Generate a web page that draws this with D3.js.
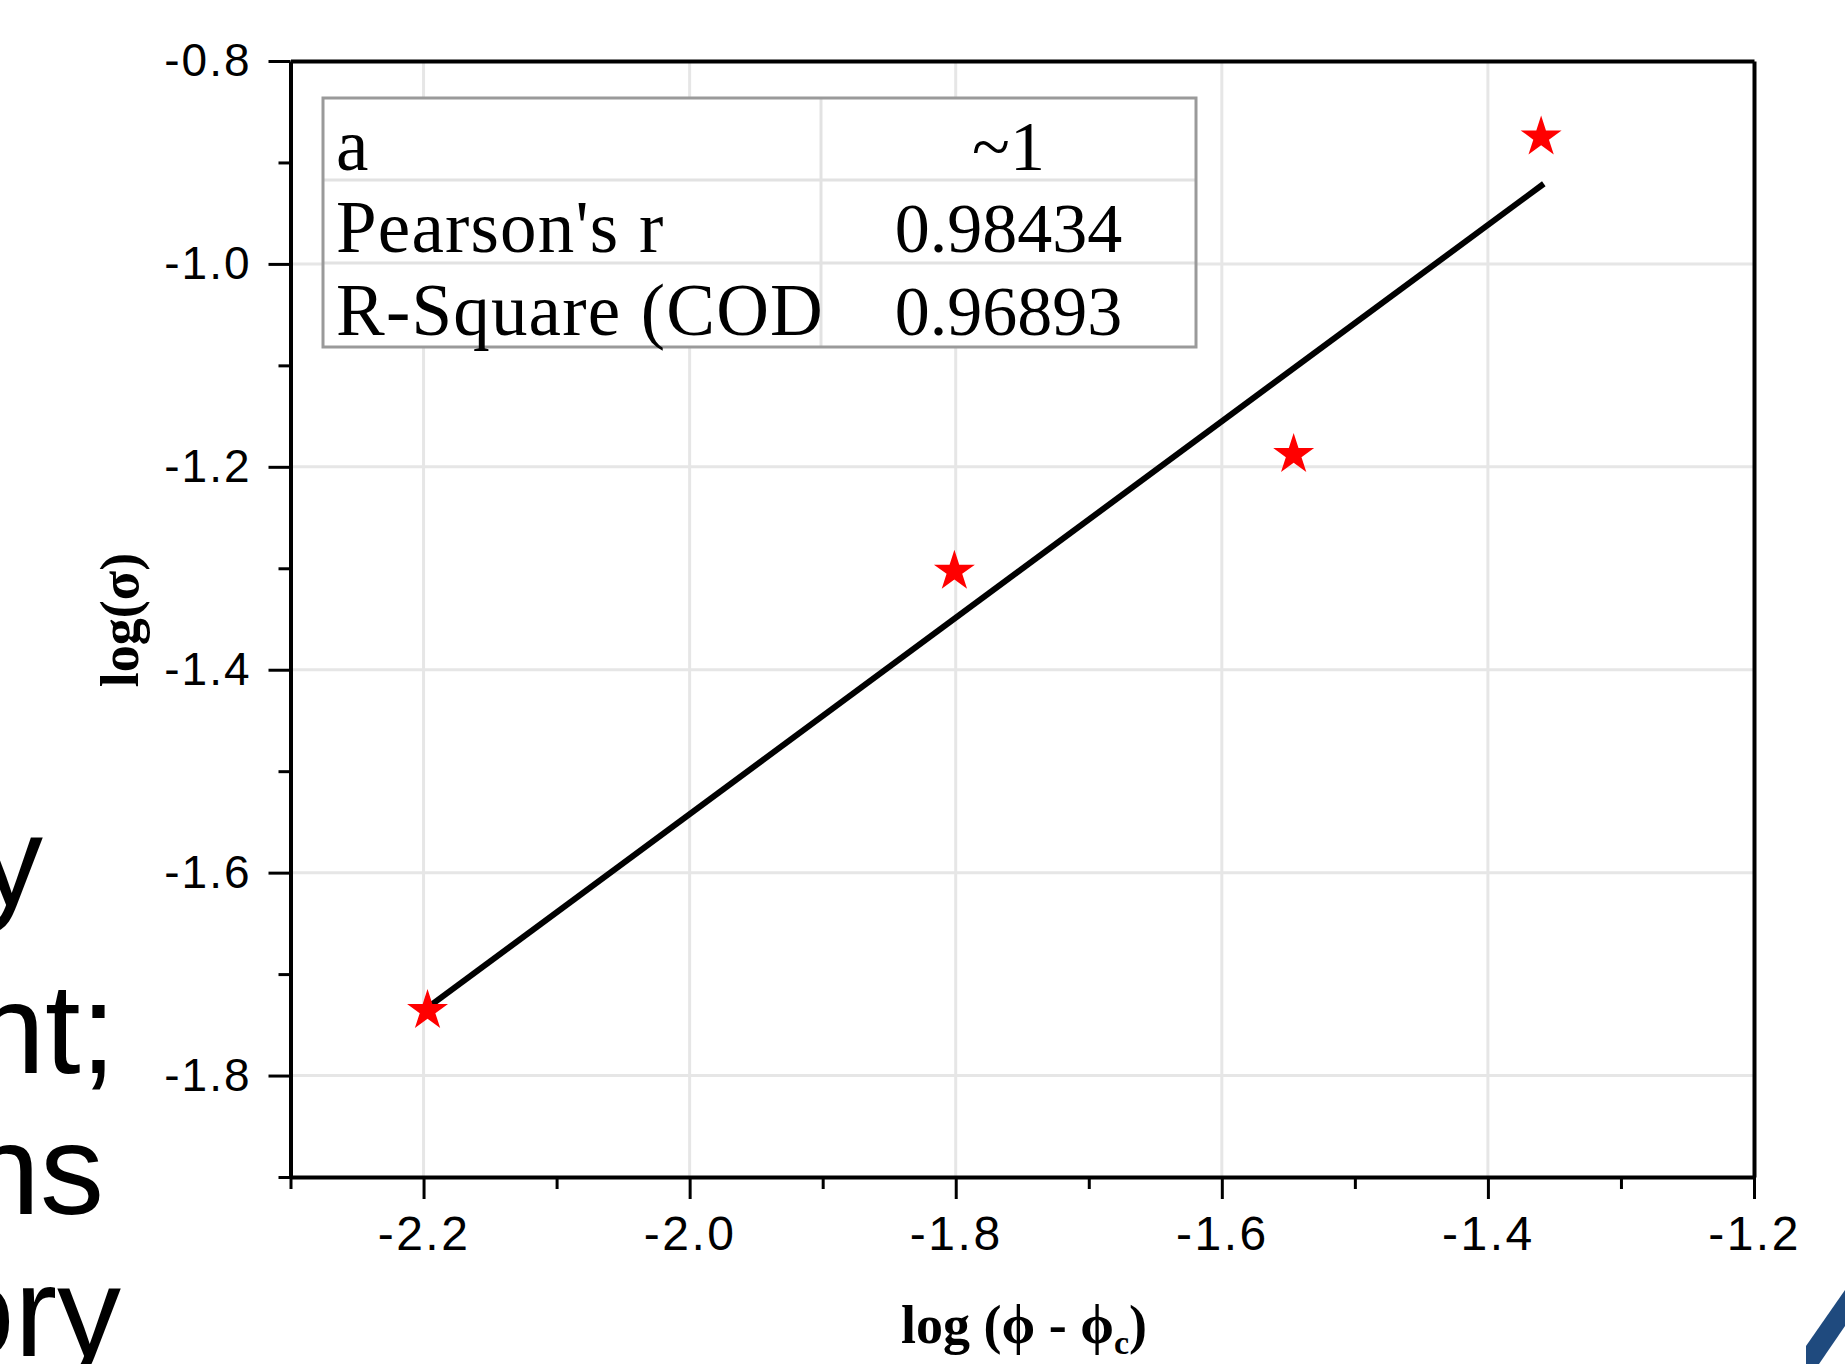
<!DOCTYPE html>
<html>
<head>
<meta charset="utf-8">
<script src="https://cdn.jsdelivr.net/npm/d3@7"></script>
<style>
  html, body { margin: 0; padding: 0; background: #fff; }
  svg { display: block; }
</style>
</head>
<body>
<svg id="chart" width="1845" height="1364"></svg>
<script>
// ---- data ----
const xValues = [-2.197, -1.801, -1.546, -1.360];
const yValues = [-1.736, -1.303, -1.188, -0.875];
const fitX = [-2.196, -1.358];
const fitY = [-1.732, -0.921];
const xMajorTicks = [-2.2, -2.0, -1.8, -1.6, -1.4, -1.2];
const xMinorTicks = [-2.3, -2.1, -1.9, -1.7, -1.5, -1.3];
const yMajorTicks = [-1.8, -1.6, -1.4, -1.2, -1.0, -0.8];
const yMinorTicks = [-1.9, -1.7, -1.5, -1.3, -1.1, -0.9];
const statLabels = ["a", "Pearson's r", "R-Square (COD"];
const statValues = ["~1", "0.98434", "0.96893"];
const sideText = ["y", "nt;", "ns", "ory"];

const svg = d3.select("#chart");
const L = 290.5, R = 1754, T = 61, B = 1177;
const x = d3.scaleLinear().domain([-2.3, -1.2]).range([L, R]);
const y = d3.scaleLinear().domain([-1.9, -0.8]).range([B, T]);
const fmt = d => d.toFixed(1);

// background slide fragments (cut at the left edge, as in the reference)
const sideG = svg.append("g").attr("font-family", "Liberation Sans, Arial, sans-serif")
  .attr("font-size", 128).attr("fill", "#000").attr("text-anchor", "end");
const sideX = [43, 116, 104, 121];
const sideY = [905, 1073, 1214, 1356];
sideText.forEach((t, i) => sideG.append("text").attr("x", sideX[i]).attr("y", sideY[i]).text(t));

// decorative blue stroke bottom-right
svg.append("path").attr("d", "M1806,1364 L1806,1346 L1845,1290 L1845,1326 L1819,1364 Z").attr("fill", "#1f4a7e");

// gridlines
const grid = svg.append("g");
grid.selectAll("line.gx").data(xMajorTicks.slice(0, -1)).join("line")
  .attr("x1", d => x(d)).attr("x2", d => x(d)).attr("y1", T).attr("y2", B)
  .attr("stroke", "#e6e6e6").attr("stroke-width", 3);
grid.selectAll("line.gy").data(yMajorTicks.slice(0, -1)).join("line")
  .attr("y1", d => y(d)).attr("y2", d => y(d)).attr("x1", L).attr("x2", R)
  .attr("stroke", "#e6e6e6").attr("stroke-width", 3);

// stats table
const tb = { x0: 323, x1: 1196, xm: 821, y0: 98, rows: [180, 263], y1: 347 };
const tg = svg.append("g");
tg.append("rect").attr("x", tb.x0).attr("y", tb.y0).attr("width", tb.x1 - tb.x0).attr("height", tb.y1 - tb.y0)
  .attr("fill", "#fff").attr("stroke", "none");
tb.rows.forEach(r => tg.append("line").attr("x1", tb.x0).attr("x2", tb.x1).attr("y1", r).attr("y2", r)
  .attr("stroke", "#e2e2e2").attr("stroke-width", 3));
tg.append("line").attr("x1", tb.xm).attr("x2", tb.xm).attr("y1", tb.y0).attr("y2", tb.y1)
  .attr("stroke", "#e2e2e2").attr("stroke-width", 3);
tg.append("rect").attr("x", tb.x0).attr("y", tb.y0).attr("width", tb.x1 - tb.x0).attr("height", tb.y1 - tb.y0)
  .attr("fill", "none").attr("stroke", "#9a9a9a").attr("stroke-width", 3);
const baselines = [170, 252, 335];
statLabels.forEach((t, i) => tg.append("text").attr("x", 336).attr("y", baselines[i])
  .attr("font-family", "Liberation Serif, Times New Roman, serif").attr("font-size", 73)
  .attr("letter-spacing", 1.2).attr("fill", "#000").text(t));
statValues.forEach((t, i) => tg.append("text").attr("x", (tb.xm + tb.x1) / 2).attr("y", baselines[i])
  .attr("text-anchor", "middle")
  .attr("font-family", "Liberation Serif, Times New Roman, serif").attr("font-size", 70).attr("fill", "#000").text(t));

// fit line
svg.append("path")
  .datum(fitX.map((d, i) => [d, fitY[i]]))
  .attr("d", d3.line().x(d => x(d[0])).y(d => y(d[1])))
  .attr("fill", "none").attr("stroke", "#000").attr("stroke-width", 6);

// stars
svg.append("g").selectAll("path").data(xValues.map((d, i) => [d, yValues[i]])).join("path")
  .attr("transform", d => `translate(${x(d[0])},${y(d[1])})`)
  .attr("d", d3.symbol(d3.symbolStar, 520))
  .attr("fill", "#ff0000");

// axes
function styleAxis(g, fs, ls) {
  g.selectAll(".domain").attr("stroke", "#000").attr("stroke-width", 4);
  g.selectAll(".tick line").attr("stroke", "#000").attr("stroke-width", 3);
  g.selectAll(".tick text").attr("font-family", "Liberation Sans, Arial, sans-serif")
    .attr("font-size", fs).attr("letter-spacing", ls || 0).attr("fill", "#000");
}
// minor ticks
svg.append("g").attr("transform", `translate(0,${B})`)
  .call(d3.axisBottom(x).tickValues(xMinorTicks).tickSize(12).tickSizeOuter(0).tickFormat(""))
  .call(g => { styleAxis(g, 10); g.select(".domain").remove(); });
svg.append("g").attr("transform", `translate(${L},0)`)
  .call(d3.axisLeft(y).tickValues(yMinorTicks).tickSize(12).tickSizeOuter(0).tickFormat(""))
  .call(g => { styleAxis(g, 10); g.select(".domain").remove(); });
// top & right border
svg.append("g").attr("transform", `translate(0,${T})`)
  .call(d3.axisTop(x).tickValues([]).tickSizeOuter(0)).call(g => styleAxis(g, 10));
svg.append("g").attr("transform", `translate(${R},0)`)
  .call(d3.axisRight(y).tickValues([]).tickSizeOuter(0)).call(g => styleAxis(g, 10));
// major
svg.append("g").attr("transform", `translate(0,${B})`)
  .call(d3.axisBottom(x).tickValues(xMajorTicks).tickSize(22).tickSizeOuter(0).tickPadding(17).tickFormat(fmt))
  .call(g => styleAxis(g, 48, 2.5));
svg.append("g").attr("transform", `translate(${L},0)`)
  .call(d3.axisLeft(y).tickValues(yMajorTicks).tickSize(22).tickSizeOuter(0).tickPadding(17).tickFormat(fmt))
  .call(g => styleAxis(g, 46, 2));

// axis titles
const xt = svg.append("text").attr("x", 1024).attr("y", 1343).attr("text-anchor", "middle")
  .attr("font-family", "Liberation Serif, Times New Roman, serif").attr("font-weight", "bold")
  .attr("font-size", 54).attr("fill", "#000");
xt.append("tspan").text("log (\u03D5 - \u03D5");
xt.append("tspan").attr("font-size", 34).attr("dy", 11).text("c");
xt.append("tspan").attr("dy", -11).text(")");

svg.append("text").attr("transform", "translate(138,620) rotate(-90)").attr("text-anchor", "middle")
  .attr("font-family", "Liberation Serif, Times New Roman, serif").attr("font-weight", "bold")
  .attr("font-size", 54).attr("fill", "#000").text("log(\u03C3)");
</script>
</body>
</html>
